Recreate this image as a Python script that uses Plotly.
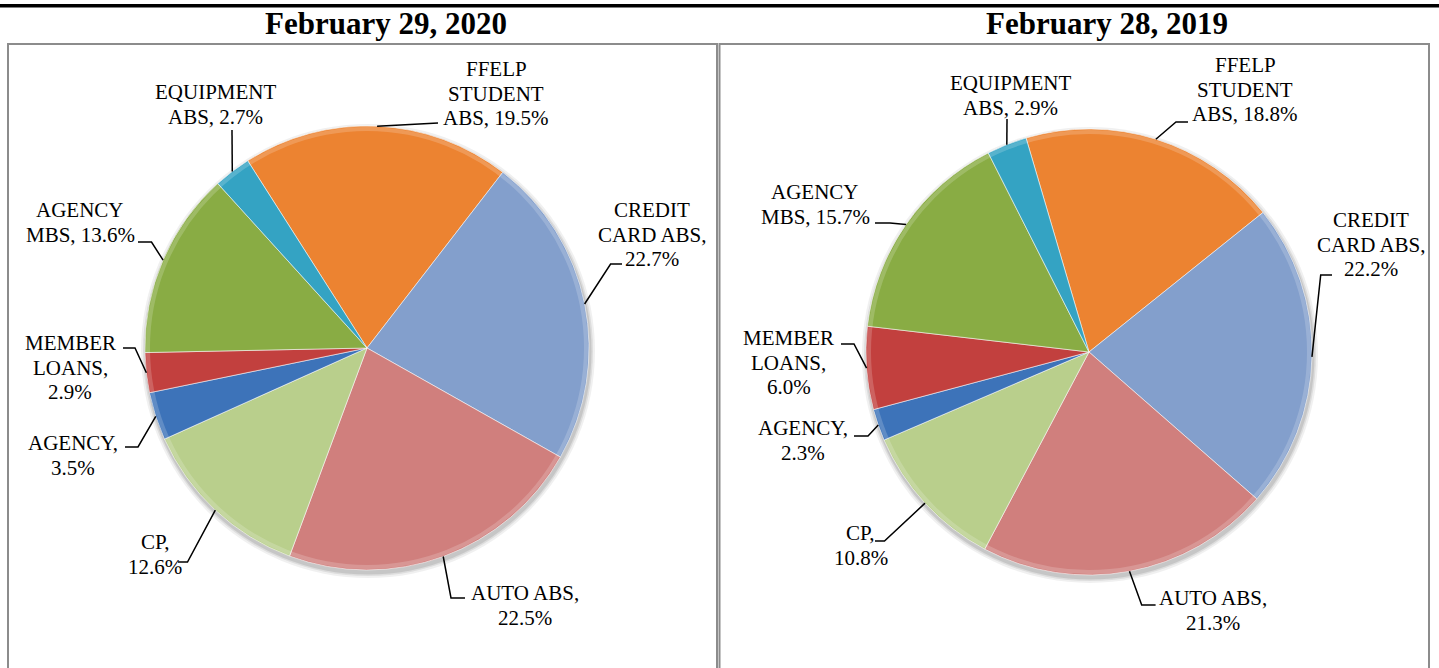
import math
import plotly.graph_objects as go

W, H = 1439, 668

# ---------------- data ----------------
categories = ["FFELP STUDENT ABS", "CREDIT CARD ABS", "AUTO ABS", "CP",
              "AGENCY", "MEMBER LOANS", "AGENCY MBS", "EQUIPMENT ABS"]
label_lines = [["FFELP", "STUDENT", "ABS, {}"],
               ["CREDIT", "CARD ABS,", "{}"],
               ["AUTO ABS,", "{}"],
               ["CP,", "{}"],
               ["AGENCY,", "{}"],
               ["MEMBER", "LOANS,", "{}"],
               ["AGENCY", "MBS, {}"],
               ["EQUIPMENT", "ABS, {}"]]
values_2020 = [19.5, 22.7, 22.5, 12.6, 3.5, 2.9, 13.6, 2.7]
values_2019 = [18.8, 22.2, 21.3, 10.8, 2.3, 6.0, 15.7, 2.9]
titles = ["February 29, 2020", "February 28, 2019"]

colors = ["#EC8331", "#839FCC", "#D07F7D", "#B9CF8C",
          "#3D73B9", "#C2403E", "#89AC44", "#34A3C3"]

# ---------------- layout / style ----------------
FONT = "Liberation Serif, Times New Roman, serif"
LINE_H = 24.5
panels = [
    dict(values=values_2020, cx=367, cy=348, r=222, rot=-32.5, title_x=386,
         label_pos=[(496, 69), (652, 210), (525, 593), (155, 542),
                    (73, 443), (70, 343), (80, 210), (216, 92)],
         leaders=[[(438, 123)], [(610.6, 264), (622, 264)], [(451, 598), (465, 598)],
                  [(187.5, 562), (178, 562)], [(138, 447), (125, 447)],
                  [(135, 348), (123, 348)], [(151.5, 242), (138, 242)], [(232, 130)]]),
    dict(values=values_2019, cx=1089, cy=352, r=223, rot=-16.4, title_x=1107,
         label_pos=[(1245, 65), (1371, 220), (1213, 598), (861, 533),
                    (803, 428), (789, 338), (815, 192), (1011, 83)],
         leaders=[[(1176, 122), (1188, 122)], [(1320.7, 275), (1332, 275)],
                  [(1141.7, 605), (1155.6, 605)], [(884.5, 541), (875, 541)],
                  [(868, 436), (854, 436)], [(854, 344), (841, 344)],
                  [(890, 223), (875, 223)], [(1007, 119)]]),
]


def X(px):
    return px / W


def Y(py):
    return 1 - py / H


fig = go.Figure()
shapes = []
annotations = []

# black rule at the top
shapes.append(dict(type="rect", xref="paper", yref="paper", x0=0, x1=1,
                   y0=Y(7.5), y1=Y(4), fillcolor="black", line=dict(width=0),
                   layer="below"))
# panel frames
for x0, x1 in [(8, 717), (719.5, 1429)]:
    shapes.append(dict(type="rect", xref="paper", yref="paper", x0=X(x0), x1=X(x1),
                       y0=Y(680), y1=Y(44), line=dict(color="#8C8C8C", width=2),
                       fillcolor="rgba(0,0,0,0)", layer="below"))

for p, title in zip(panels, titles):
    cx, cy, r = p["cx"], p["cy"], p["r"]
    vals = p["values"]
    # soft shadow under the pie
    for k, a in [(5, 0.06), (3, 0.08), (1.5, 0.10)]:
        shapes.append(dict(type="circle", xref="paper", yref="paper",
                           x0=X(cx - r - k + 1), x1=X(cx + r + k + 1),
                           y0=Y(cy + r + k + 3), y1=Y(cy - r - k + 3),
                           fillcolor=f"rgba(0,0,0,{a})", line=dict(width=0),
                           layer="below"))
    fig.add_trace(go.Pie(
        labels=categories, values=vals, sort=False, direction="clockwise",
        rotation=p["rot"], textinfo="none", hoverinfo="label+percent",
        marker=dict(colors=colors, line=dict(color="rgba(255,255,255,0.55)", width=1)),
        domain=dict(x=[X(cx - r), X(cx + r)], y=[Y(cy + r), Y(cy - r)]),
        showlegend=False,
    ))
    # subtle bevel highlight along the rim
    shapes.append(dict(type="circle", xref="paper", yref="paper",
                       x0=X(cx - r + 3), x1=X(cx + r - 3),
                       y0=Y(cy + r - 3), y1=Y(cy - r + 3),
                       fillcolor="rgba(0,0,0,0)",
                       line=dict(color="rgba(255,255,255,0.18)", width=4),
                       layer="above"))
    # title
    annotations.append(dict(text=f"<b>{title}</b>", x=X(p["title_x"]), y=Y(24),
                            xref="paper", yref="paper", showarrow=False,
                            xanchor="center", yanchor="middle",
                            font=dict(family=FONT, size=31, color="black")))
    total = sum(vals)
    cum = 0.0
    for i, v in enumerate(vals):
        theta = math.radians(p["rot"] + (cum + v / 2) / total * 360)
        cum += v
        ex, ey = cx + r * math.sin(theta), cy - r * math.cos(theta)
        pts = [(ex, ey)] + p["leaders"][i]
        path = "M " + " L ".join(f"{X(a):.5f},{Y(b):.5f}" for a, b in pts)
        shapes.append(dict(type="path", xref="paper", yref="paper", path=path,
                           line=dict(color="black", width=1.5), layer="above"))
        lx, ly = p["label_pos"][i]
        for j, line in enumerate(label_lines[i]):
            txt = line.format(f"{v:.1f}%")
            annotations.append(dict(text=txt, x=X(lx), y=Y(ly + j * LINE_H),
                                    xref="paper", yref="paper", showarrow=False,
                                    xanchor="center", yanchor="middle",
                                    font=dict(family=FONT, size=21, color="black")))

fig.update_layout(width=W, height=H, margin=dict(l=0, r=0, t=0, b=0),
                  paper_bgcolor="white", plot_bgcolor="white",
                  shapes=shapes, annotations=annotations, showlegend=False)
fig.write_html("out.html", config={"displayModeBar": False},
               post_script="document.body.style.margin='0';"
                           "document.body.style.overflow='hidden';")
